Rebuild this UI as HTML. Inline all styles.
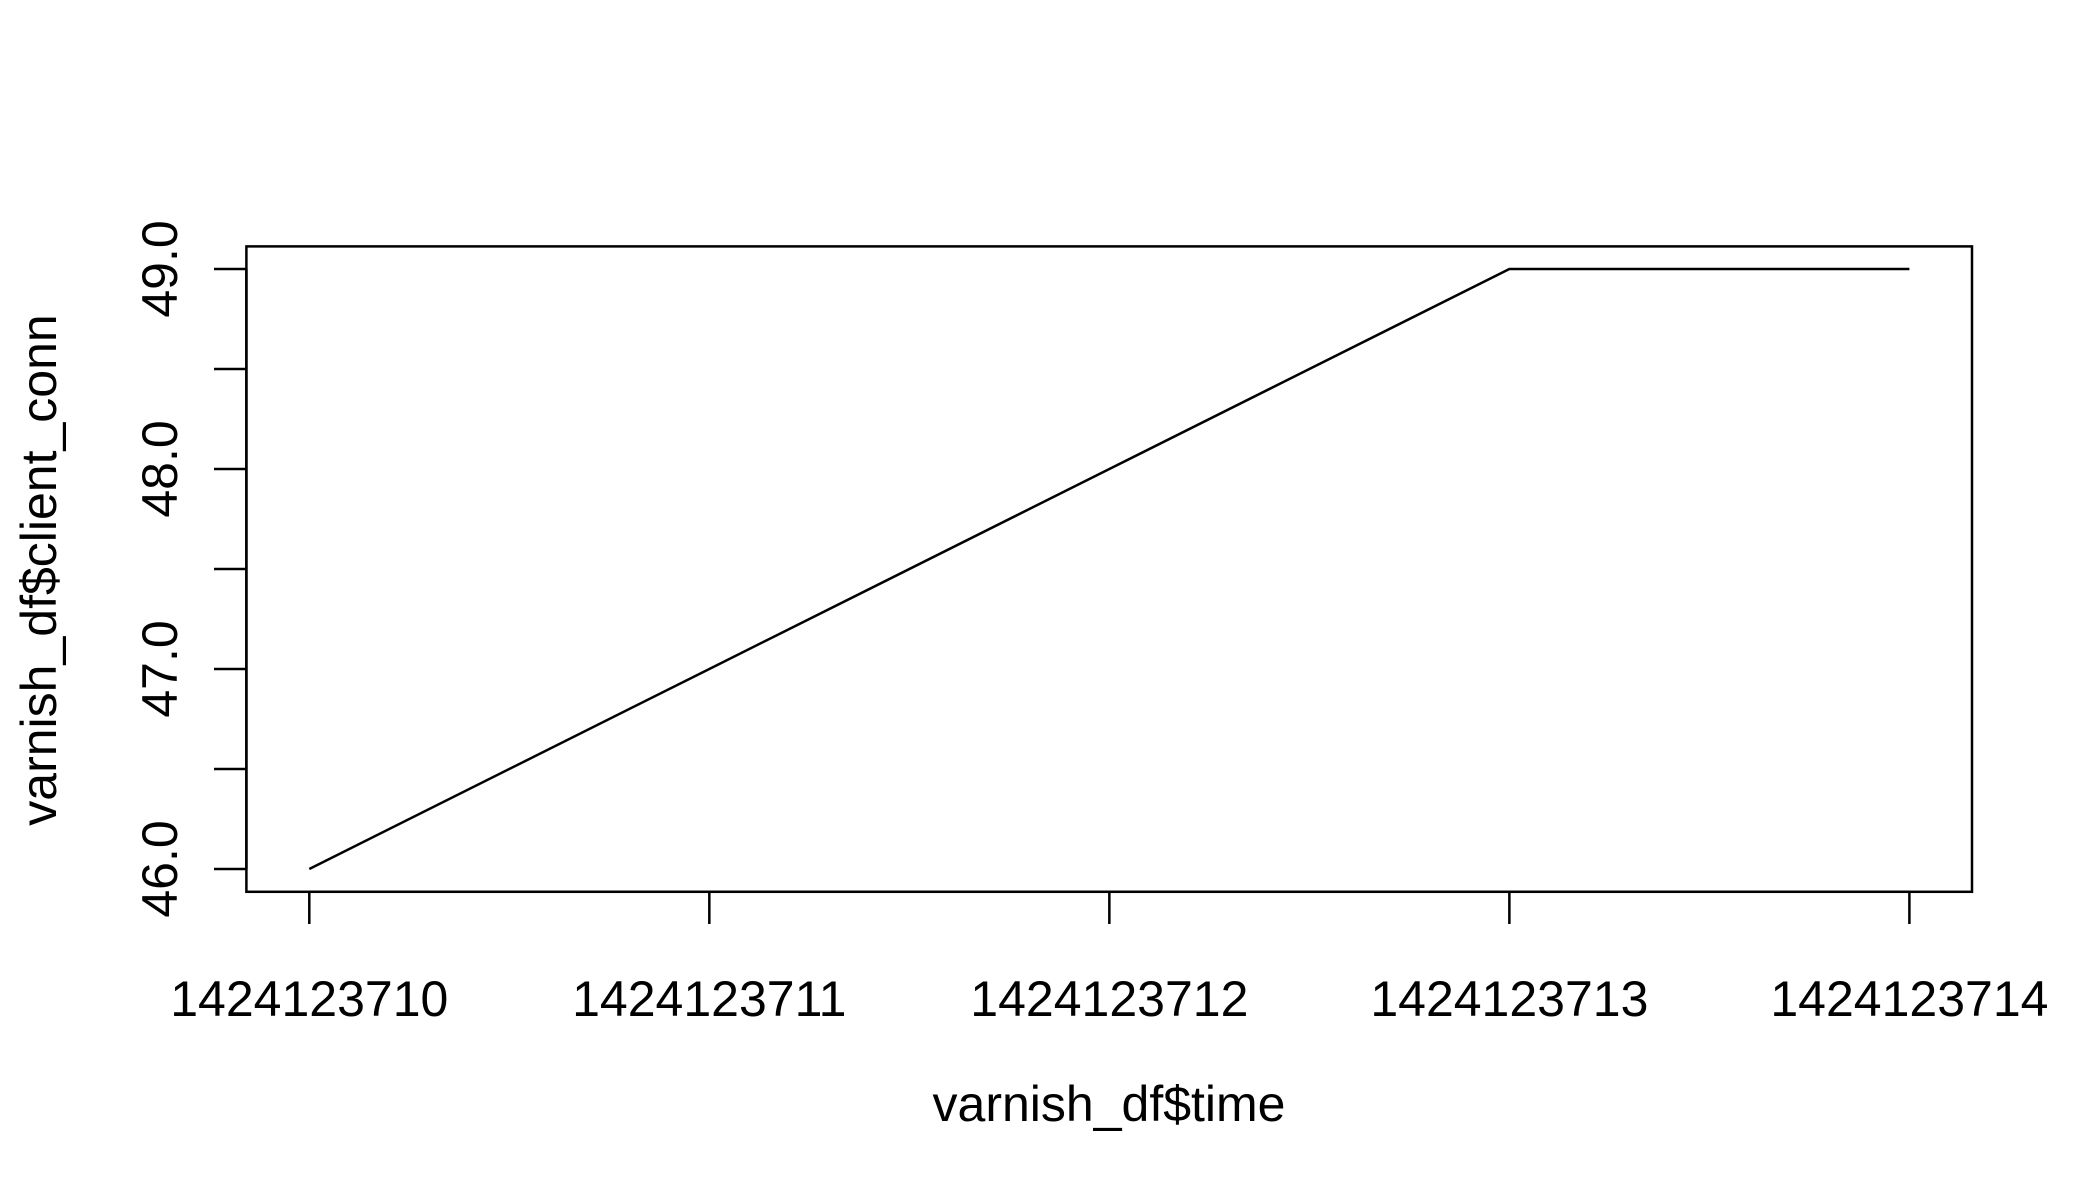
<!DOCTYPE html>
<html><head><meta charset="utf-8"><style>
html,body{margin:0;padding:0;background:#fff;}
svg{display:block;font-family:"Liberation Sans",Arial,sans-serif;}
</style></head><body>
<svg id="chart" width="2100" height="1200" viewBox="0 0 2100 1200">
<rect x="246.4" y="246.4" width="1725.6" height="645.4" fill="none" stroke="#000" stroke-width="2.5"/>
<g id="xaxis"></g>
<g id="yaxis"></g>
<g id="series"></g>
<text x="1109" y="1121" font-size="50" text-anchor="middle">varnish_df$time</text>
<text transform="translate(56,570) rotate(-90)" font-size="50" text-anchor="middle">varnish_df$client_conn</text>
</svg>
<script>
const times = [1424123710, 1424123711, 1424123712, 1424123713, 1424123714];
const clientConn = [46, 47, 48, 49, 49];
const xTicks = [1424123710, 1424123711, 1424123712, 1424123713, 1424123714];
const yTicks = [46, 46.5, 47, 47.5, 48, 48.5, 49];
const yLabels = ["46.0", "", "47.0", "", "48.0", "", "49.0"];
const NS = "http://www.w3.org/2000/svg";
function xs(v){return 309.3 + (v - 1424123710) * (1909.4 - 309.3) / 4;}
function ys(v){return 869 - (v - 46) * (869 - 269) / 3;}
function mk(tag, attrs, parent){const e=document.createElementNS(NS,tag);for(const k in attrs)e.setAttribute(k,attrs[k]);parent.appendChild(e);return e;}
const xa=document.getElementById('xaxis'), ya=document.getElementById('yaxis'), sg=document.getElementById('series');
mk('line',{x1:xs(xTicks[0]),x2:xs(xTicks[xTicks.length-1]),y1:891.8,y2:891.8,stroke:'#000','stroke-width':2.5},xa);
xTicks.forEach(t=>{
  const l=mk('line',{x1:xs(t),x2:xs(t),y1:891.8,y2:924,stroke:'#000','stroke-width':2.5},xa);
  
  
  const tx=mk('text',{x:xs(t),y:1016,'font-size':50,'text-anchor':'middle'},xa);
  tx.textContent=String(t);
  
  
});
mk('line',{x1:246.4,x2:246.4,y1:ys(yTicks[0]),y2:ys(yTicks[yTicks.length-1]),stroke:'#000','stroke-width':2.5},ya);
yTicks.forEach((t,i)=>{
  const l=mk('line',{x1:214,x2:246.4,y1:ys(t),y2:ys(t),stroke:'#000','stroke-width':2.5},ya);
  
  
  if(yLabels[i]){
    const tx=mk('text',{transform:`translate(177,${ys(t)}) rotate(-90)`,'font-size':50,'text-anchor':'middle'},ya);
    tx.textContent=yLabels[i];
    
    
  }
});
const pts=times.map((t,i)=>xs(t)+','+ys(clientConn[i])).join(' ');
const pl=mk('polyline',{points:pts,fill:'none',stroke:'#000','stroke-width':2.5},sg);


</script>
</body></html>
